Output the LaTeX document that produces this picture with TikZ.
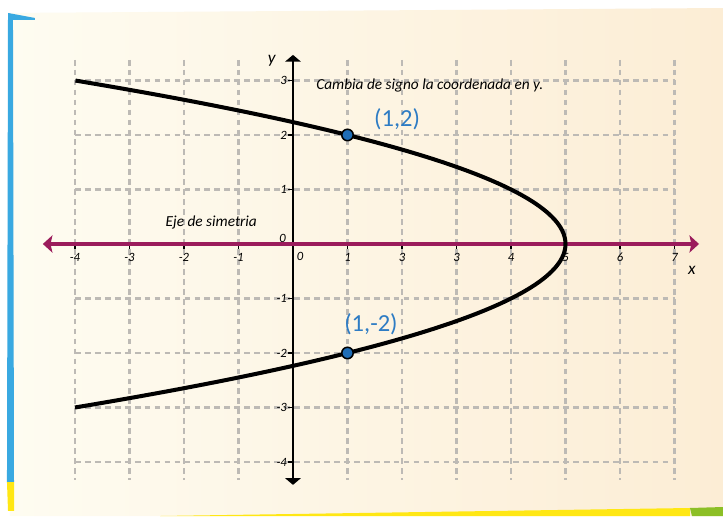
\documentclass[tikz,border=0pt]{standalone}
\usepackage{fontspec}
\setmainfont{Carlito}
\usetikzlibrary{arrows.meta}
\definecolor{axisred}{HTML}{9B1C5C}
\definecolor{ptblue}{HTML}{2E7CC4}
\definecolor{dotblue}{HTML}{1F6DB6}
\definecolor{gridgray}{HTML}{BDBAB5}
\definecolor{paperl}{HTML}{FEFCF1}
\definecolor{paperr}{HTML}{FCEDD5}
\definecolor{edgeblue}{HTML}{39A9E1}
\definecolor{edgeyel}{HTML}{FFE714}
\definecolor{edgegrn}{HTML}{8CBF26}
\begin{document}
\begin{tikzpicture}[
  font=\itshape\fontsize{6.6}{7}\selectfont,
  grd/.style={gridgray, line width=1.3pt, dash pattern=on 3pt off 2.2pt},
  xax/.style={axisred, line width=1.6pt, {Stealth[length=5pt,width=9pt,inset=1pt]}-{Stealth[length=5pt,width=9pt,inset=1pt]}},
  yax/.style={black, line width=1pt, {Triangle[length=3.5pt,width=8pt]}-{Triangle[length=3.5pt,width=8pt]}},
  tck/.style={black, line width=0.9pt},
  curve/.style={black, line width=2.1pt},
  pt/.style={circle, draw=black, fill=dotblue, line width=0.8pt, minimum size=0.21cm, inner sep=0pt},
  ptlbl/.style={ptblue, font=\fontsize{12.8}{14}\selectfont},
  note/.style={font=\itshape\fontsize{8}{10}\selectfont}]
\useasboundingbox (-5.376,-4.991) rectangle (7.890,4.477);
\fill[white] (-5.376,-4.991) rectangle (7.890,4.477);
\shade[left color=paperl, right color=paperr] (-5.193,4.239) -- (7.890,4.330) -- (7.890,-4.991) -- (-5.193,-4.991) -- cycle;
\fill[edgeblue] (-5.229,4.183) -- (-5.138,4.183) -- (-5.119,-4.367) -- (-5.248,-4.367) -- cycle;
\fill[edgeyel] (-5.248,-4.367) -- (-5.119,-4.367) -- (-5.119,-4.899) -- (-5.229,-4.899) -- cycle;
\fill[edgeblue] (-5.229,4.239) -- (-4.734,4.147) -- (-4.734,4.110) -- (-5.229,4.110) -- cycle;
\fill[edgeyel] (-2.440,-4.991) -- (7.284,-4.844) -- (7.284,-4.991) -- cycle;
\fill[edgegrn] (7.284,-4.844) -- (7.890,-4.826) -- (7.890,-4.991) -- (7.320,-4.991) -- cycle;

\foreach \v in {-4,...,-1,1,2,...,7}
  \draw[grd] (\v,3.38) -- (\v,-4.33);
\foreach \v in {-4,...,-1,1,2,3}
  \draw[grd] (-4,\v) -- (7,\v);

\coordinate (xl) at (-4.59,0);
\coordinate (xr) at (7.45,0);
\coordinate (yt) at (0,3.47);
\coordinate (yb) at (0,-4.42);

\foreach \v/\t [count=\k] in {-4/-4,-3/-3,-2/-2,-1/-1,1/1,2/3,3/3,4/4,5/5,6/6,7/7}
  {\draw[tck] (\v,0) -- (\v,-0.09);
   \node (tx\k) at (\v,-0.24) {\t};}
\foreach \v [count=\k] in {3,2,1,-1,-2,-3,-4}
  {\draw[tck] (0,\v) -- (-0.09,\v);
   \node[anchor=east, inner sep=1pt] (ty\k) at (-0.07,\v) {\v};}
\node (zb) at (0.13,-0.22) {0};
\node (za) at (-0.19,0.11) {0};

\draw[yax] (yb) -- (yt);
\draw[xax] (xl) -- (xr);
\draw[curve] plot[variable=\t, domain=-3:3, samples=121, smooth] ({5-\t*\t},\t);

\node[pt] (p1) at (1,2) {};
\node[pt] (p2) at (1,-2) {};
\node[ptlbl] (l1) at (1.91,2.28) {(1,2)};
\node[ptlbl] (l2) at (1.43,-1.47) {(1,-2)};
\node[note] (cam) at (2.51,2.90) {Cambia de signo la coordenada en y.};
\node[note] (eje) at (-1.50,0.40) {Eje de simetria};
\node[font=\itshape\fontsize{9}{10}\selectfont] (ylb) at (-0.39,3.36) {y};
\node[font=\itshape\fontsize{9}{10}\selectfont] (xlb) at (7.32,-0.48) {x};
\end{tikzpicture}
\end{document}
